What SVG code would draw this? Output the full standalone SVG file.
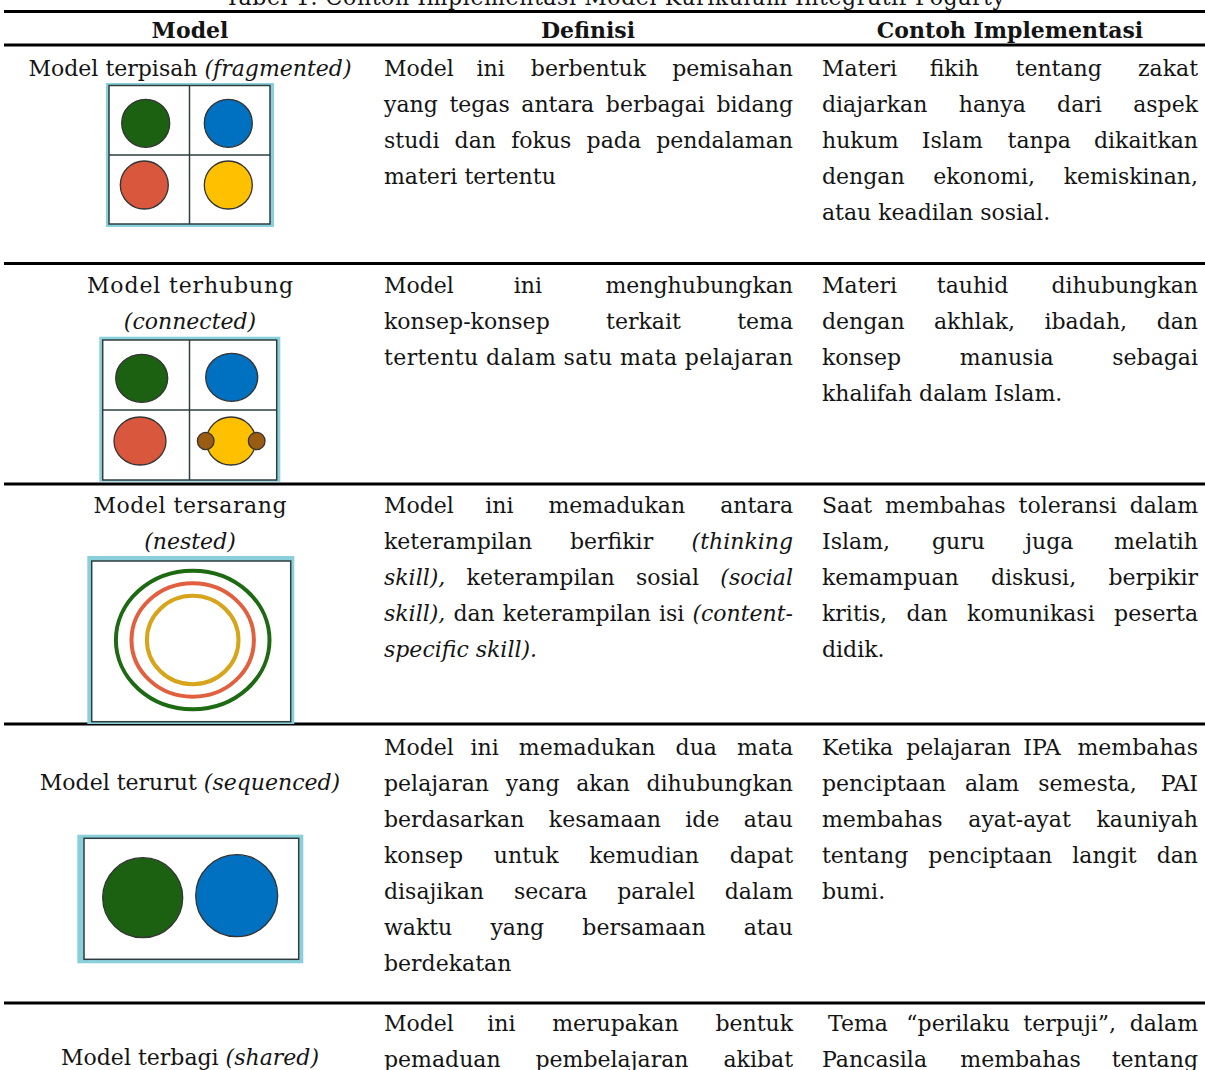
<svg xmlns="http://www.w3.org/2000/svg" width="1205" height="1070" viewBox="0 0 1205 1070">
<style>
text{font-family:"DejaVu Serif","Liberation Serif",serif;font-size:22px;fill:#141414}
.i{font-style:italic}
.b{font-weight:bold}
.m{text-anchor:middle}
.e{text-anchor:end}
.rule{stroke:#000;stroke-width:3}
.cy{fill:#8ad0db}
.fr{fill:#fff;stroke:#2e3c3f;stroke-width:1.5}
.dv{stroke:#2e3c3f;stroke-width:1.5}
.c{stroke:#333;stroke-width:1.3}
.g{fill:#1c6112}.bl{fill:#0070c0}.rd{fill:#d9573c}.yl{fill:#ffc000}.br{fill:#9a5c12}
.ring{fill:none;stroke-width:4}
</style>

<g id="title">
<text x="615" y="5" class="m" textLength="780">Tabel 1. Contoh Implementasi Model Kurikulum Integratif Fogarty</text>
</g>

<g id="rules">
<line class="rule" x1="4" y1="11.5" x2="1205" y2="11.5"/>
<line class="rule" x1="4" y1="45" x2="1205" y2="45"/>
<line class="rule" x1="4" y1="263.5" x2="1205" y2="263.5"/>
<line class="rule" x1="4" y1="484" x2="1205" y2="484"/>
<line class="rule" x1="4" y1="724" x2="1205" y2="724"/>
<line class="rule" x1="4" y1="1003" x2="1205" y2="1003"/>
</g>

<g id="header">
<text class="b m" x="190" y="38">Model</text>
<text class="b m" x="588" y="38">Definisi</text>
<text class="b m" x="1010" y="38">Contoh Implementasi</text>
</g>

<g id="row-fragmented">
<text class="m" x="190" y="76">Model terpisah <tspan class="i">(fragmented)</tspan></text>
<g id="icon-fragmented">
<rect class="cy" x="106" y="83" width="168" height="144"/>
<rect class="fr" x="109" y="85.5" width="161" height="138.5"/>
<line class="dv" x1="189.5" y1="85.5" x2="189.5" y2="224"/>
<line class="dv" x1="109" y1="155" x2="270" y2="155"/>
<circle class="c g" cx="145.7" cy="123.3" r="24"/>
<circle class="c bl" cx="228.3" cy="123.3" r="24"/>
<circle class="c rd" cx="144.3" cy="185" r="24"/>
<circle class="c yl" cx="228.3" cy="185" r="24"/>
</g>
<text y="76"><tspan x="384">Model</tspan><tspan x="476.5">ini</tspan><tspan x="530.8">berbentuk</tspan></text><text class="e" x="793" y="76">pemisahan</text>
<text y="112"><tspan x="384">yang</tspan><tspan x="449.4">tegas</tspan><tspan x="521.3">antara</tspan><tspan x="605.8">berbagai</tspan></text><text class="e" x="793" y="112">bidang</text>
<text y="148"><tspan x="384">studi</tspan><tspan x="454.6">dan</tspan><tspan x="511.2">fokus</tspan><tspan x="586.6">pada</tspan></text><text class="e" x="793" y="148">pendalaman</text>
<text x="384" y="184">materi tertentu</text>
<text y="76"><tspan x="822">Materi</tspan><tspan x="929.7">fikih</tspan><tspan x="1015.6">tentang</tspan></text><text class="e" x="1198" y="76">zakat</text>
<text y="112"><tspan x="822">diajarkan</tspan><tspan x="958.8">hanya</tspan><tspan x="1057.1">dari</tspan></text><text class="e" x="1198" y="112">aspek</text>
<text y="148"><tspan x="822">hukum</tspan><tspan x="921.8">Islam</tspan><tspan x="1007.6">tanpa</tspan></text><text class="e" x="1198" y="148">dikaitkan</text>
<text y="184"><tspan x="822">dengan</tspan><tspan x="933.2">ekonomi,</tspan></text><text class="e" x="1198" y="184">kemiskinan,</text>
<text x="822" y="220">atau keadilan sosial.</text>
</g>

<g id="row-connected">
<text class="m" x="190" y="293" textLength="206" lengthAdjust="spacing">Model terhubung</text>
<text class="m i" x="190" y="329">(connected)</text>
<g id="icon-connected">
<rect class="cy" x="99.3" y="336.7" width="181" height="145"/>
<rect class="fr" x="102.7" y="340" width="174" height="140"/>
<line class="dv" x1="189.5" y1="340" x2="189.5" y2="480"/>
<line class="dv" x1="102.7" y1="410" x2="276.7" y2="410"/>
<ellipse class="c g" cx="141.7" cy="378.3" rx="26" ry="24"/>
<ellipse class="c bl" cx="231.7" cy="377.3" rx="26" ry="24"/>
<ellipse class="c rd" cx="140" cy="441" rx="26" ry="24"/>
<ellipse class="c yl" cx="231" cy="441" rx="24.7" ry="24"/>
<ellipse class="c br" cx="205.7" cy="441" rx="8.3" ry="8.7"/>
<ellipse class="c br" cx="256.7" cy="441" rx="8.3" ry="8.7"/>
</g>
<text y="293"><tspan x="384">Model</tspan><tspan x="513.8">ini</tspan></text><text class="e" x="793" y="293">menghubungkan</text>
<text y="329"><tspan x="384">konsep-konsep</tspan><tspan x="606.1">terkait</tspan></text><text class="e" x="793" y="329">tema</text>
<text x="384" y="365" textLength="409" lengthAdjust="spacing">tertentu dalam satu mata pelajaran</text>
<text y="293"><tspan x="822">Materi</tspan><tspan x="936.8">tauhid</tspan></text><text class="e" x="1198" y="293">dihubungkan</text>
<text y="329"><tspan x="822">dengan</tspan><tspan x="934">akhlak,</tspan><tspan x="1044.5">ibadah,</tspan></text><text class="e" x="1198" y="329">dan</text>
<text y="365"><tspan x="822">konsep</tspan><tspan x="959.8">manusia</tspan></text><text class="e" x="1198" y="365">sebagai</text>
<text x="822" y="401">khalifah dalam Islam.</text>
</g>

<g id="row-nested">
<text class="m" x="190" y="513" textLength="193" lengthAdjust="spacing">Model tersarang</text>
<text class="m i" x="190" y="549">(nested)</text>
<g id="icon-nested">
<rect class="cy" x="87.3" y="556" width="207" height="168"/>
<rect class="fr" x="91.7" y="561" width="199" height="160.7"/>
<ellipse class="ring" stroke="#1d6a12" cx="192.7" cy="640" rx="76.8" ry="69.2"/>
<ellipse class="ring" stroke="#e0603f" cx="192.7" cy="640" rx="61.2" ry="56.7"/>
<ellipse class="ring" stroke="#d7a51c" cx="192.7" cy="640" rx="45.8" ry="44.2"/>
</g>
<text y="513"><tspan x="384">Model</tspan><tspan x="485.3">ini</tspan><tspan x="548.4">memadukan</tspan></text><text class="e" x="793" y="513">antara</text>
<text y="549"><tspan x="384">keterampilan</tspan><tspan x="570">berfikir</tspan></text><text class="e i" x="793" y="549">(thinking</text>
<text y="585"><tspan x="384" class="i">skill),</tspan><tspan x="466.6">keterampilan</tspan><tspan x="636">sosial</tspan></text><text class="e i" x="793" y="585">(social</text>
<text y="621"><tspan x="384" class="i">skill),</tspan><tspan x="453.4">dan</tspan><tspan x="502.8">keterampilan</tspan><tspan x="659">isi</tspan></text><text class="e i" x="793" y="621">(content-</text>
<text class="i" x="384" y="657">specific skill).</text>
<text y="513"><tspan x="822">Saat</tspan><tspan x="885.1">membahas</tspan><tspan x="1018.6">toleransi</tspan></text><text class="e" x="1198" y="513">dalam</text>
<text y="549"><tspan x="822">Islam,</tspan><tspan x="932">guru</tspan><tspan x="1025.2">juga</tspan></text><text class="e" x="1198" y="549">melatih</text>
<text y="585"><tspan x="822">kemampuan</tspan><tspan x="990.9">diskusi,</tspan></text><text class="e" x="1198" y="585">berpikir</text>
<text y="621"><tspan x="822">kritis,</tspan><tspan x="906.4">dan</tspan><tspan x="967.1">komunikasi</tspan></text><text class="e" x="1198" y="621">peserta</text>
<text x="822" y="657">didik.</text>
</g>

<g id="row-sequenced">
<text class="m" x="190" y="790">Model terurut <tspan class="i">(sequenced)</tspan></text>
<g id="icon-sequenced">
<rect class="cy" x="77.3" y="834.7" width="226" height="128.6"/>
<rect class="fr" x="84" y="838.3" width="214.7" height="121"/>
<circle class="c g" cx="142.7" cy="897.7" r="40"/>
<circle class="c bl" cx="236.7" cy="895.7" r="41"/>
</g>
<text y="755"><tspan x="384">Model</tspan><tspan x="470.5">ini</tspan><tspan x="518.8">memadukan</tspan><tspan x="675.6">dua</tspan></text><text class="e" x="793" y="755">mata</text>
<text y="791"><tspan x="384">pelajaran</tspan><tspan x="505.8">yang</tspan><tspan x="576.2">akan</tspan></text><text class="e" x="793" y="791">dihubungkan</text>
<text y="827"><tspan x="384">berdasarkan</tspan><tspan x="548.8">kesamaan</tspan><tspan x="685.3">ide</tspan></text><text class="e" x="793" y="827">atau</text>
<text y="863"><tspan x="384">konsep</tspan><tspan x="493.8">untuk</tspan><tspan x="589.2">kemudian</tspan></text><text class="e" x="793" y="863">dapat</text>
<text y="899"><tspan x="384">disajikan</tspan><tspan x="514">secara</tspan><tspan x="617.2">paralel</tspan></text><text class="e" x="793" y="899">dalam</text>
<text y="935"><tspan x="384">waktu</tspan><tspan x="490.4">yang</tspan><tspan x="582.3">bersamaan</tspan></text><text class="e" x="793" y="935">atau</text>
<text x="384" y="971">berdekatan</text>
<text y="755"><tspan x="822">Ketika</tspan><tspan x="906.2">pelajaran</tspan><tspan x="1023.2">IPA</tspan></text><text class="e" x="1198" y="755">membahas</text>
<text y="791"><tspan x="822">penciptaan</tspan><tspan x="965">alam</tspan><tspan x="1038.2">semesta,</tspan></text><text class="e" x="1198" y="791">PAI</text>
<text y="827"><tspan x="822">membahas</tspan><tspan x="968.3">ayat-ayat</tspan></text><text class="e" x="1198" y="827">kauniyah</text>
<text y="863"><tspan x="822">tentang</tspan><tspan x="928.3">penciptaan</tspan><tspan x="1072.3">langit</tspan></text><text class="e" x="1198" y="863">dan</text>
<text x="822" y="899">bumi.</text>
</g>

<g id="row-shared">
<text class="m" x="190" y="1065">Model terbagi <tspan class="i">(shared)</tspan></text>
<text y="1031"><tspan x="384">Model</tspan><tspan x="487.2">ini</tspan><tspan x="552.2">merupakan</tspan></text><text class="e" x="793" y="1031">bentuk</text>
<text y="1067"><tspan x="384">pemaduan</tspan><tspan x="535.5">pembelajaran</tspan></text><text class="e" x="793" y="1067">akibat</text>
<text y="1031"><tspan x="828">Tema</tspan><tspan x="906.3">“perilaku</tspan><tspan x="1023.3">terpuji”,</tspan></text><text class="e" x="1198" y="1031">dalam</text>
<text y="1067"><tspan x="822">Pancasila</tspan><tspan x="960.3">membahas</tspan></text><text class="e" x="1198" y="1067">tentang</text>
</g>
</svg>
